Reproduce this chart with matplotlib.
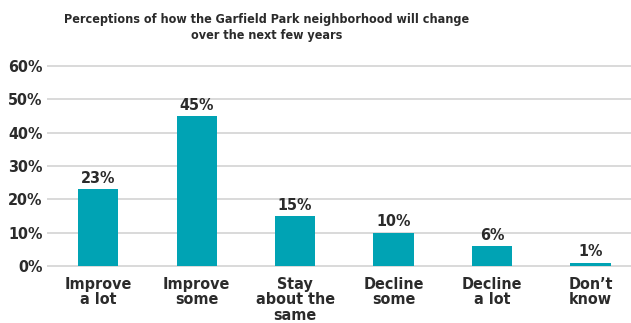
import matplotlib
matplotlib.use("Agg")
import matplotlib.pyplot as plt

categories = ["Improve\na lot", "Improve\nsome", "Stay\nabout the\nsame", "Decline\nsome", "Decline\na lot", "Don\u2019t\nknow"]
values = [23, 45, 15, 10, 6, 1]
value_labels = ["23%", "45%", "15%", "10%", "6%", "1%"]
yticks = [0, 10, 20, 30, 40, 50, 60]
ytick_labels = ["0%", "10%", "20%", "30%", "40%", "50%", "60%"]
title = "Perceptions of how the Garfield Park neighborhood will change\nover the next few years"

plt.rcParams["font.family"] = ["DejaVu Sans"]
plt.rcParams["font.stretch"] = "condensed"

text_color = "#2b2b2b"
bar_color = "#00A3B4"

fig = plt.figure(figsize=(6.31, 3.23), dpi=100)
ax = fig.add_axes([48/631, 57/323, 1 - 48/631, 200/323])

x = list(range(len(categories)))
ax.bar(x, values, width=0.41, color=bar_color, zorder=3)
for xi, v, lab in zip(x, values, value_labels):
    ax.annotate(lab, (xi, v), xytext=(0, 2.5), textcoords="offset points",
                ha="center", va="bottom", fontsize=11.5, fontweight="bold", color=text_color)

ax.set_xlim(-0.51, 5.41)
ax.set_ylim(0, 60)
ax.set_yticks(yticks)
ax.set_yticklabels(ytick_labels, fontsize=11.5, fontweight="bold", color=text_color)
ax.set_xticks(x)
ax.set_xticklabels(categories, fontsize=11.5, fontweight="bold", color=text_color, linespacing=1.02)
ax.tick_params(axis="both", length=0)
ax.tick_params(axis="x", pad=8)
ax.tick_params(axis="y", pad=4)
ax.grid(axis="y", color="#d9d9d9", linewidth=1.4, zorder=0)
for ytick_line in ax.get_ygridlines():
    ytick_line.set_clip_on(False)
for s in ax.spines.values():
    s.set_visible(False)

fig.text(267/631, 1 - 13/323, title, ha="center", va="top", fontsize=9.0,
         fontweight="bold", color=text_color, linespacing=1.3)

fig.savefig("out.png", dpi=100)
